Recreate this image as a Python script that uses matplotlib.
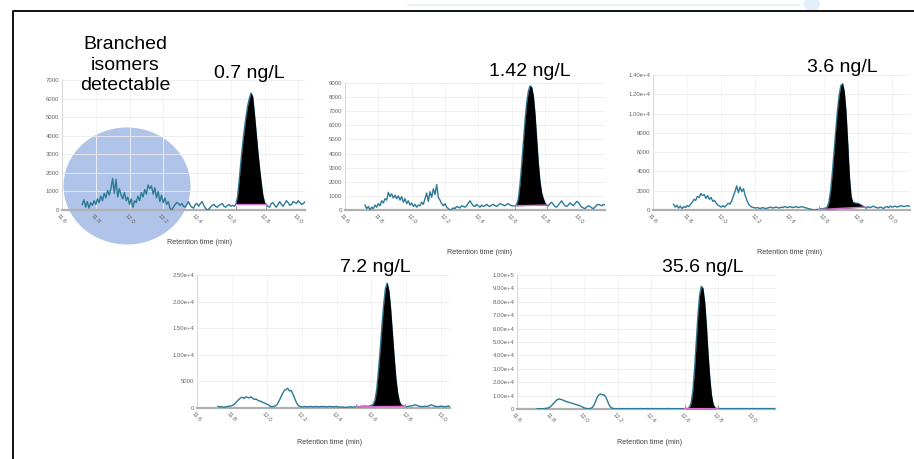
import matplotlib
matplotlib.use("Agg")
import matplotlib.pyplot as plt
import numpy as np
from matplotlib.patches import Ellipse
from matplotlib.lines import Line2D
from matplotlib.ticker import FuncFormatter, MultipleLocator

plt.rcParams["font.family"] = ["Liberation Sans", "DejaVu Sans"]

# retention time grid (min), one reading every 0.01 min
rt_start = 11.72
rt_step = 0.01

# intensity readings
trace_07 = [
    300, 550, 150, 450, 100, 400, 250, 500, 300, 600,
    400, 750, 500, 900, 650, 1050, 800, 1150, 1700, 900,
    1650, 700, 1150, 800, 600, 950, 500, 700, 300, 600,
    150, 500, 400, 750, 500, 950, 700, 1100, 850, 1350,
    1150, 1300, 850, 1200, 650, 1000, 450, 800, 400, 650,
    300, 450, 100, 0, 150, 300, 400, 350, 250, 350,
    200, 150, 300, 450, 250, 150, 100, 300, 350, 200,
    350, 450, 250, 100, 0, 50, 150, 250, 300, 200,
    150, 250, 300, 350, 200, 150, 250, 300, 200, 250,
    200, 300, 700, 1600, 2600, 3500, 4300, 5000, 5600, 6000,
    6300, 6100, 5200, 4200, 3200, 2300, 1500, 800, 400, 300,
    200, 150, 350, 400, 250, 150, 300, 450, 300, 200,
    350, 500, 400, 250, 300, 450, 400, 350, 500, 400,
    300, 350, 450, 400, 300, 350, 400, 300, 350, 300,
    400, 350, 300, 350, 400, 300, 350, 300,
]
trace_142 = [
    350, 100, 250, 0, 200, 100, 350, 200, 450, 300,
    650, 500, 800, 700, 1250, 950, 1150, 850, 1050, 800,
    1000, 700, 950, 550, 800, 450, 650, 350, 500, 250,
    400, 200, 350, 300, 550, 400, 800, 1200, 600, 1300,
    900, 1500, 1100, 1800, 900, 700, 450, 300, 450, 200,
    100, 0, 50, 150, 100, 250, 200, 150, 300, 250,
    200, 300, 500, 650, 450, 300, 250, 400, 300, 200,
    350, 250, 300, 400, 300, 250, 350, 400, 300, 250,
    350, 450, 400, 350, 300, 400, 450, 350, 300, 300,
    300, 400, 800, 1800, 3200, 4800, 6300, 7600, 8400, 8800,
    8700, 8100, 6800, 5000, 3300, 2000, 1200, 800, 500, 350,
    300, 450, 550, 400, 250, 200, 350, 500, 650, 450,
    300, 250, 350, 500, 400, 300, 450, 600, 550, 350,
    200, 150, 100, 200, 300, 250, 150, 100, 200, 350,
    400, 350, 300, 400, 350, 300, 350, 400,
]
trace_36 = [
    600, 300, 500, 200, 400, 150, 350, 250, 450, 350,
    600, 800, 1100, 1000, 1400, 1300, 1700, 1500, 1600, 1200,
    1500, 1100, 1300, 900, 1000, 700, 500, 400, 300, 450,
    300, 500, 700, 600, 900, 1400, 1900, 2500, 1800, 2400,
    1900, 2200, 1500, 1000, 600, 400, 300, 250, 200, 250,
    200, 150, 250, 200, 150, 200, 250, 300, 200, 250,
    300, 250, 200, 300, 250, 350, 300, 250, 350, 300,
    250, 300, 350, 250, 300, 350, 300, 250, 200, 150,
    100, 50, 0, 0, 50, 50, 100, 150, 150, 200,
    300, 800, 2000, 3800, 6000, 8300, 10300, 11900, 12900, 13100,
    12300, 10200, 7000, 3500, 1400, 800, 750, 700, 700, 600,
    500, 400, 300, 200, 350, 250, 300, 400, 300, 250,
    200, 300, 250, 150, 300, 350, 250, 400, 300, 350,
    400, 300, 350, 450, 400, 350, 400, 450, 400, 350,
    400, 350, 400, 450, 400, 350, 400, 400,
]
trace_72 = [
    300, 200, 250, 150, 200, 250, 300, 350, 450, 600,
    900, 1300, 1600, 1900, 2000, 1800, 2100, 2000, 1900, 2100,
    1800, 1600, 1700, 1400, 1300, 1200, 1000, 900, 700, 600,
    300, 250, 300, 400, 700, 1300, 2000, 2700, 3300, 3500,
    3700, 3200, 3300, 2600, 1800, 1000, 500, 300, 200, 250,
    300, 200, 250, 300, 250, 200, 300, 250, 200, 300,
    250, 300, 200, 250, 300, 250, 200, 250, 300, 200,
    150, 200, 150, 100, 150, 200, 250, 150, 200, 250,
    300, 250, 350, 300, 400, 350, 300, 400, 500, 700,
    1500, 3500, 7000, 11000, 15500, 19500, 22500, 23500, 22000, 18500,
    14000, 9500, 5500, 2800, 1200, 600, 400, 300, 250, 300,
    400, 350, 500, 600, 500, 350, 300, 250, 300, 350,
    300, 400, 600, 500, 350, 300, 250, 300, 350, 300,
    250, 300, 350, 300, 250, 300, 350, 300, 250, 300,
    300, 250, 300, 350, 300, 250, 300, 300,
]
trace_356 = [
    200, 200, 250, 200, 300, 400, 600, 1000, 1800, 3000,
    4500, 5800, 7000, 7500, 7200, 6800, 6300, 5800, 5300, 5000,
    4600, 4200, 3800, 3400, 3000, 2700, 2200, 1500, 900, 500,
    300, 300, 500, 1200, 3000, 6000, 9000, 10800, 11200, 10600,
    10500, 9000, 6000, 3000, 1200, 500, 300, 250, 200, 250,
    300, 250, 200, 250, 300, 250, 200, 250, 300, 250,
    200, 250, 300, 250, 200, 250, 300, 250, 200, 250,
    300, 250, 200, 250, 300, 250, 200, 250, 300, 250,
    250, 200, 250, 200, 250, 200, 250, 200, 250, 300,
    400, 1500, 5000, 14000, 30000, 50000, 70000, 85000, 91500, 90000,
    80000, 63000, 42000, 24000, 11000, 4000, 1200, 500, 300, 250,
    250, 300, 250, 300, 250, 300, 250, 300, 250, 300,
    250, 300, 250, 300, 250, 300, 250, 300, 250, 300,
    250, 300, 250, 300, 250, 300, 250, 300, 250, 300,
    250, 300, 250, 300, 250, 300, 250, 300,
]

traces = [trace_07, trace_142, trace_36, trace_72, trace_356]
conc_labels = ["0.7 ng/L", "1.42 ng/L", "3.6 ng/L", "7.2 ng/L", "35.6 ng/L"]
y_max = [7000, 9000, 14000, 25000, 100000]
y_step = [1000, 1000, 2000, 5000, 10000]
x_max = [13.04, 13.16, 13.105, 13.05, 13.14]
peak_start = [12.63, 12.62, 12.57, 12.51, 12.60]
peak_end = [12.81, 12.81, 12.84, 12.79, 12.80]

W, H = 914, 459
# panel boxes in pixels: left, right, bottom (zero line), top
boxes = [(62, 305, 210, 80), (345, 605, 210, 83), (653, 910, 210, 75),
         (197, 450, 408, 275), (517, 775, 409, 275)]
label_pos = [(249, 73), (530, 72), (842, 67), (375, 267), (703, 268)]
xlabel_pos = [(200, 243), (480, 253), (790, 253), (330, 443), (650, 443)]


def yfmt(v, pos):
    if v >= 10000:
        m, e = f"{v:.2e}".split("e")
        return f"{m}e+{int(e)}"
    return f"{int(v)}"


fig = plt.figure(figsize=(W / 100, H / 100), dpi=100)

for i, tr in enumerate(traces):
    y = np.array(tr, dtype=float)
    t = np.round(rt_start + rt_step * np.arange(len(y)), 2)
    x0, x1, yb, yt = boxes[i]
    ax = fig.add_axes([x0 / W, 1 - yb / H, (x1 - x0) / W, (yb - yt) / H])
    ax.set_zorder(3)

    ax.plot(t, y, color="#2b7a98", lw=1.0, zorder=3)

    # integrated peak: black fill down to the drawn baseline
    m = (t >= peak_start[i]) & (t <= peak_end[i])
    base = np.interp(t[m], [peak_start[i], peak_end[i]],
                     [y[m][0], y[m][-1]])
    ax.fill_between(t[m], base, y[m], color="black", zorder=4, lw=0)
    ax.plot([peak_start[i], peak_end[i]], [base[0], base[-1]],
            color="#d46ec8", lw=1.0, zorder=5)
    for p in (peak_start[i], peak_end[i]):
        ax.plot([p, p], [0, y_max[i] * 0.03], color="#999999", lw=0.7, zorder=5)

    ax.set_xlim(11.6, x_max[i])
    ax.set_ylim(0, y_max[i])
    ax.xaxis.set_major_locator(MultipleLocator(0.2))
    ax.yaxis.set_major_locator(MultipleLocator(y_step[i]))
    ax.yaxis.set_major_formatter(FuncFormatter(yfmt))
    ax.xaxis.set_major_formatter(FuncFormatter(lambda v, p: f"{v:.1f}"))
    ax.tick_params(length=0, labelsize=4.3, labelcolor="#666666", pad=2)
    for lab in ax.get_xticklabels():
        lab.set_rotation(-45)
        lab.set_ha("center")
        lab.set_va("top")
    ax.grid(axis="y", color="#ececec", lw=0.6)
    ax.grid(axis="x", color="#f3f3f3", lw=0.6)
    ax.set_axisbelow(True)
    for s in ("top", "right"):
        ax.spines[s].set_visible(False)
    ax.spines["left"].set_color("#d8d8d8")
    ax.spines["left"].set_linewidth(0.7)
    ax.spines["bottom"].set_color("#b0b0b0")
    ax.spines["bottom"].set_linewidth(1.6)
    ax.patch.set_alpha(0)

    fig.text(label_pos[i][0] / W, 1 - label_pos[i][1] / H, conc_labels[i],
             fontsize=14, ha="center", va="center")
    fig.text(xlabel_pos[i][0] / W, 1 - xlabel_pos[i][1] / H,
             "Retention time (min)", fontsize=5.2, color="#444444",
             ha="center", va="center")

fig.text(125 / W, 1 - 65 / H, "Branched\nisomers\ndetectable", fontsize=14,
         ha="center", va="center", linespacing=1.3)

# highlight behind the branched isomer region
fig.patches.append(Ellipse((127 / W, 1 - 186 / H), 127 / W, 117 / H,
                           transform=fig.transFigure, facecolor="#b0c3e8",
                           lw=0, zorder=1))

# frame of the slide panel and faint backdrop above it
fig.lines.append(Line2D([13 / W, 13 / W, 1], [0, 1 - 11 / H, 1 - 11 / H],
                        transform=fig.transFigure, color="black", lw=1.3))
fig.lines.append(Line2D([408 / W, 800 / W], [1 - 5 / H, 1 - 5 / H],
                        transform=fig.transFigure, color="#e3edf6", lw=1.2))
fig.patches.append(Ellipse((812 / W, 1 - 4 / H), 16 / W, 14 / H,
                           transform=fig.transFigure, facecolor="#e3eef8",
                           lw=0))

fig.savefig("out.png", dpi=100)
